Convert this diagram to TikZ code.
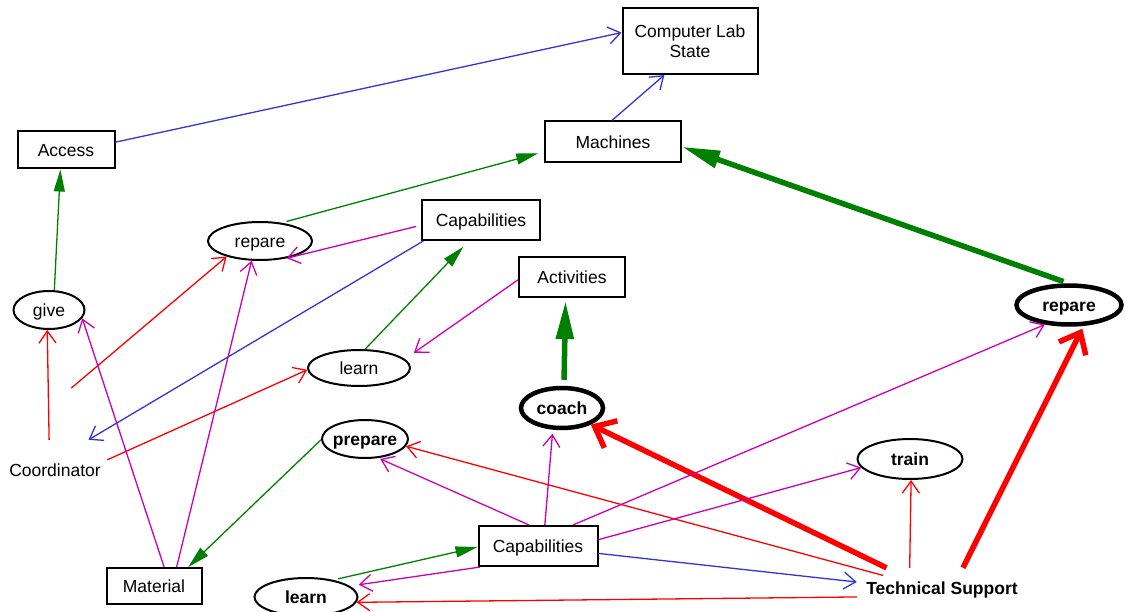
\documentclass[tikz,border=0pt]{standalone}
\usepackage{fontspec}
\setmainfont{Liberation Sans}
\usetikzlibrary{arrows.meta, shapes.geometric}
\definecolor{linkblue}{RGB}{51, 51, 221}
\definecolor{linkgreen}{RGB}{0, 128, 0}
\definecolor{linkred}{RGB}{255, 0, 0}
\definecolor{linkpink}{RGB}{204, 0, 178}
\newcommand{\labfont}{\fontsize{17.5}{20}\selectfont}

\begin{document}
\begin{tikzpicture}[x=1pt, y=-1pt, font=\labfont,
    level/.style={text height=12.5pt, text depth=0pt},
    box/.style={draw, line width=2pt, inner sep=0pt, level},
    oval/.style={ellipse, draw, line width=2pt, inner sep=2pt, inner xsep=-3pt, level},
    boldtext/.style={font=\labfont\bfseries},
    heavy/.style={oval, boldtext, line width=4.5pt},
    plain/.style={line width=1.3pt, -{Straight Barb[length=12pt, width=17pt]}},
    lead/.style={line width=1.3pt, -{Triangle[length=22pt, width=11pt]}},
    heavylead/.style={line width=5.5pt, -{Triangle[length=38pt, width=17pt]}},
    heavybarb/.style={line width=5.5pt, -{Straight Barb[length=18pt, width=30pt]}}]
    \useasboundingbox (0,0) rectangle (1125,612);

    % boxes
    \node[box, text height={}, text depth={}, minimum width=135pt, minimum height=66pt, align=center] (lab) at (690,41) {Computer Lab\\State};
    \node[box, minimum width=136pt, minimum height=41pt] (machines) at (613,142) {Machines};
    \node[box, minimum width=97pt, minimum height=37pt] (access) at (66,150) {Access};
    \node[box, minimum width=118pt, minimum height=40pt] (capsTop) at (481,220) {Capabilities};
    \node[box, minimum width=106pt, minimum height=40pt] (activities) at (572,277) {Activities};
    \node[box, minimum width=95pt, minimum height=36pt] (material) at (154,586) {Material};
    \node[box, minimum width=119pt, minimum height=40pt] (capsLow) at (538,546) {Capabilities};

    % ovals
    \node[oval, minimum width=104pt, minimum height=38pt] (repareL) at (260,241) {repare};
    \node[oval, minimum width=71pt, minimum height=38pt] (give) at (49,310) {give};
    \node[oval, minimum width=102pt, minimum height=36pt] (learnMid) at (359,368) {learn};
    \node[heavy, minimum width=105pt, minimum height=39pt] (repareR) at (1069,305) {repare};
    \node[heavy, minimum width=82pt, minimum height=40pt] (coach) at (562,408) {coach};
    \node[oval, boldtext, minimum width=86pt, minimum height=38pt] (prepare) at (365,439) {prepare};
    \node[oval, boldtext, minimum width=105pt, minimum height=40pt] (train) at (910,459) {train};
    \node[oval, boldtext, minimum width=103pt, minimum height=38pt] (learnLow) at (306,597) {learn};

    % actors
    \node[minimum width=104pt, minimum height=60pt] (coordinator) at (55,470) {Coordinator};
    \node[boldtext, level, minimum width=170pt, minimum height=40pt] (support) at (942,588) {Technical Support};

    % blue
    \draw[plain, linkblue] (access.9) -- (lab.173);
    \draw[plain, linkblue] (machines.93) -- (lab.-127);
    \draw[plain, linkblue] (capsTop.200) -- (coordinator.42);
    \draw[plain, linkblue] (capsLow.-7) -- (support.176);

    % green
    \draw[lead, linkgreen] (give.75) -- (access.-106);
    \draw[lead, linkgreen, shorten <=5pt, shorten >=6pt] (repareL.40) -- (machines.-172);
    \draw[lead, linkgreen, shorten >=8pt] (learnMid.72) -- (capsTop.-120);
    \draw[lead, linkgreen] (prepare.181) -- (material.29);
    \draw[lead, linkgreen, shorten <=5pt] (learnLow.32) -- (capsLow.181);
    \draw[heavylead, linkgreen, shorten <=5pt] (repareR.92) -- (machines.-4);
    \draw[heavylead, linkgreen, shorten <=6pt, shorten >=3pt] (coach.85) -- (activities.-107);

    % red
    \draw[plain, linkred] (coordinator.101) -- (give.-95);
    \draw[plain, linkred, shorten <=80pt] (coordinator.146) -- (repareL.-155);
    \draw[plain, linkred] (coordinator.11) -- (learnMid.182);
    \draw[plain, linkred, shorten <=-27pt] (support.167) -- (prepare.-10);
    \draw[plain, linkred] (support.148) -- (train.-87);
    \draw[plain, linkred] (support.186) -- (learnLow.-6);
    \draw[heavybarb, linkred] (support.160) -- (coach.-30);
    \draw[heavybarb, linkred, shorten >=3pt] (support.44) -- (repareR.-55);

    % magenta
    \draw[plain, linkpink, shorten <=5pt] (capsTop.185) -- (repareL.-33);
    \draw[plain, linkpink, shorten >=11pt] (activities.183) -- (learnMid.11);
    \draw[plain, linkpink] (material.62) -- (give.-14);
    \draw[plain, linkpink] (material.40) -- (repareL.-113);
    \draw[plain, linkpink, shorten >=2pt] (capsLow.113) -- (prepare.-55);
    \draw[plain, linkpink, shorten >=4pt] (capsLow.72) -- (coach.-113);
    \draw[plain, linkpink] (capsLow.31) -- (repareR.-141);
    \draw[plain, linkpink] (capsLow.6) -- (train.-170);
    \draw[plain, linkpink, shorten >=9pt] (capsLow.-160) -- (learnLow.14);
\end{tikzpicture}
\end{document}
